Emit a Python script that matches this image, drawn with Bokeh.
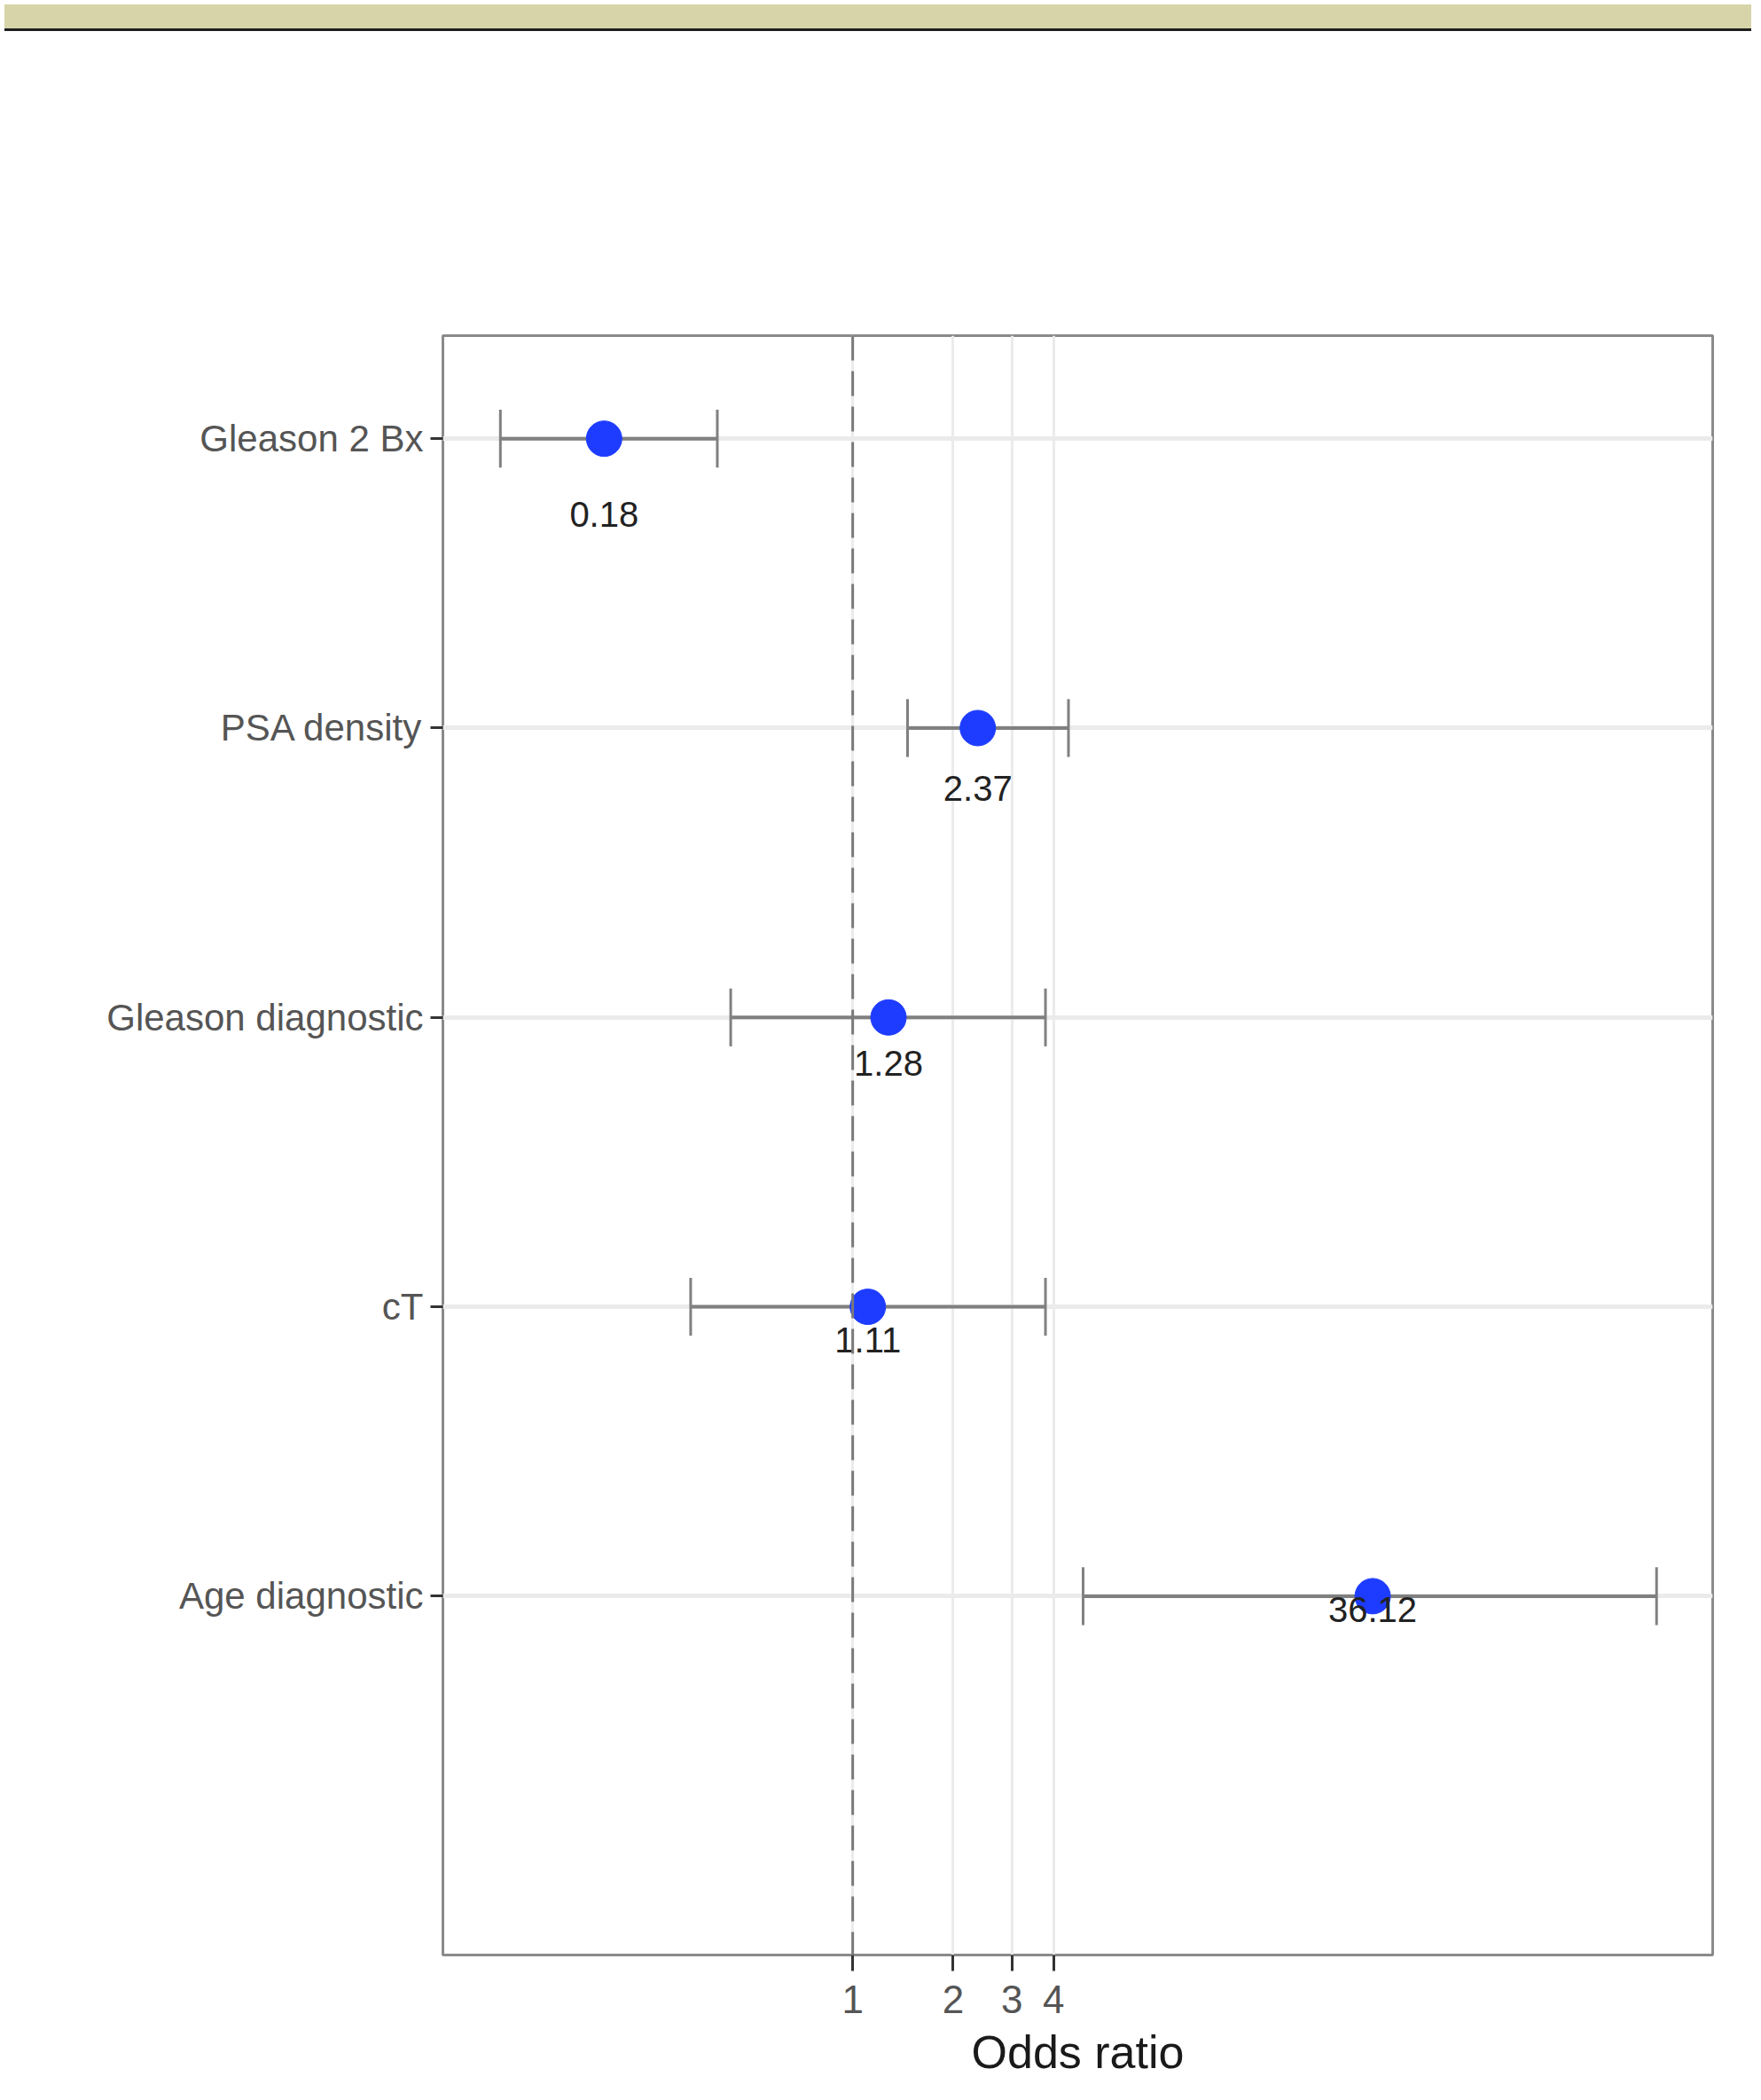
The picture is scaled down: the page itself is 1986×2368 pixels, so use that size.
from bokeh.plotting import figure
from bokeh.models import (Range1d, FixedTicker, Span, ColumnDataSource, Div)
from bokeh.layouts import column
from bokeh.embed import file_html
from bokeh.resources import INLINE
from bokeh.core.properties import value

# ---- data ----
variables = ["Gleason 2 Bx", "PSA density", "Gleason diagnostic", "cT", "Age diagnostic"]
odds_ratio = [0.18, 2.37, 1.28, 1.11, 36.12]
ci_lower = [0.088, 1.46, 0.431, 0.327, 4.90]
ci_upper = [0.393, 4.43, 3.78, 3.78, 256.0]
or_labels = ["0.18", "2.37", "1.28", "1.11", "36.12"]
label_drop = [0.26, 0.21, 0.157, 0.116, 0.046]
x_ticks = [1, 2, 3, 4]

rows = list(range(len(variables), 0, -1))  # top to bottom: 5..1
CAP = 0.1

FONT = "Liberation Sans"

p = figure(
    x_axis_type="log",
    x_range=Range1d(0.0592, 377),
    y_range=Range1d(-0.24, 5.356),
    frame_width=1432, frame_height=1826,
    min_border_left=499, min_border_right=39, min_border_top=338, min_border_bottom=0,
    output_backend="svg", toolbar_location=None,
    background_fill_color="white", border_fill_color="white",
)

p.outline_line_color = "#8A8A8A"
p.outline_line_width = 3

# grid
p.xgrid.ticker = FixedTicker(ticks=x_ticks)
p.ygrid.ticker = FixedTicker(ticks=rows)
p.xgrid.grid_line_color = "#EBEBEB"
p.ygrid.grid_line_color = "#EBEBEB"
p.xgrid.grid_line_width = 3
p.ygrid.grid_line_width = 5
p.xgrid.minor_grid_line_color = None
p.ygrid.minor_grid_line_color = None

# axes
p.xaxis.ticker = FixedTicker(ticks=x_ticks)
p.xaxis.major_label_overrides = {t: str(t) for t in x_ticks}
p.yaxis.ticker = FixedTicker(ticks=rows)
p.yaxis.major_label_overrides = {r: v for r, v in zip(rows, variables)}
for ax in (p.xaxis, p.yaxis):
    ax.axis_line_color = None
    ax.major_tick_in = 0
    ax.major_tick_line_color = "#333333"
    ax.major_tick_line_width = 3
    ax.minor_tick_line_color = None
    ax.major_label_text_font = FONT
    ax.major_label_text_color = "#555555"
p.yaxis.major_tick_out = 14
p.xaxis.major_tick_out = 18
p.yaxis.major_label_text_font_size = "42px"
p.xaxis.major_label_text_font_size = "44px"
p.yaxis.major_label_standoff = 8
p.xaxis.major_label_standoff = 16
p.xaxis.axis_label = "Odds ratio"
p.xaxis.axis_label_text_font = FONT
p.xaxis.axis_label_text_font_size = "52px"
p.xaxis.axis_label_text_font_style = "normal"
p.xaxis.axis_label_text_color = "#1A1A1A"
p.xaxis.axis_label_standoff = 12

# reference line at OR = 1
p.add_layout(Span(location=1, dimension="height", line_color="#7A7A7A",
                  line_width=3, line_dash="28 12"))

src = ColumnDataSource(dict(
    y=rows, orv=odds_ratio, lo=ci_lower, hi=ci_upper, lab=or_labels,
    ly=[r - d for r, d in zip(rows, label_drop)],
    cb=[r - CAP for r in rows], ct=[r + CAP for r in rows],
))

# error bars
p.segment(x0="lo", x1="hi", y0="y", y1="y", source=src, line_color="#808080", line_width=4)
p.segment(x0="lo", x1="lo", y0="cb", y1="ct", source=src, line_color="#808080", line_width=3)
p.segment(x0="hi", x1="hi", y0="cb", y1="ct", source=src, line_color="#808080", line_width=3)

# points
p.scatter(x="orv", y="y", source=src, size=40, fill_color="#1E3CFF",
          line_color="#1E3CFF", line_width=1)

# value labels
p.text(x="orv", y="ly", text="lab", source=src, text_align="center",
       text_baseline="middle", text_font=value(FONT), text_font_size="40px",
       text_color="#222222")

band = Div(text="", width=1970, height=27,
           styles={"background-color": "#D7D4A9", "border-bottom": "3px solid #1E1E1E",
                   "box-sizing": "content-box"})

layout = column(band, p, spacing=0)

open("out.html", "w").write(file_html(layout, INLINE))
